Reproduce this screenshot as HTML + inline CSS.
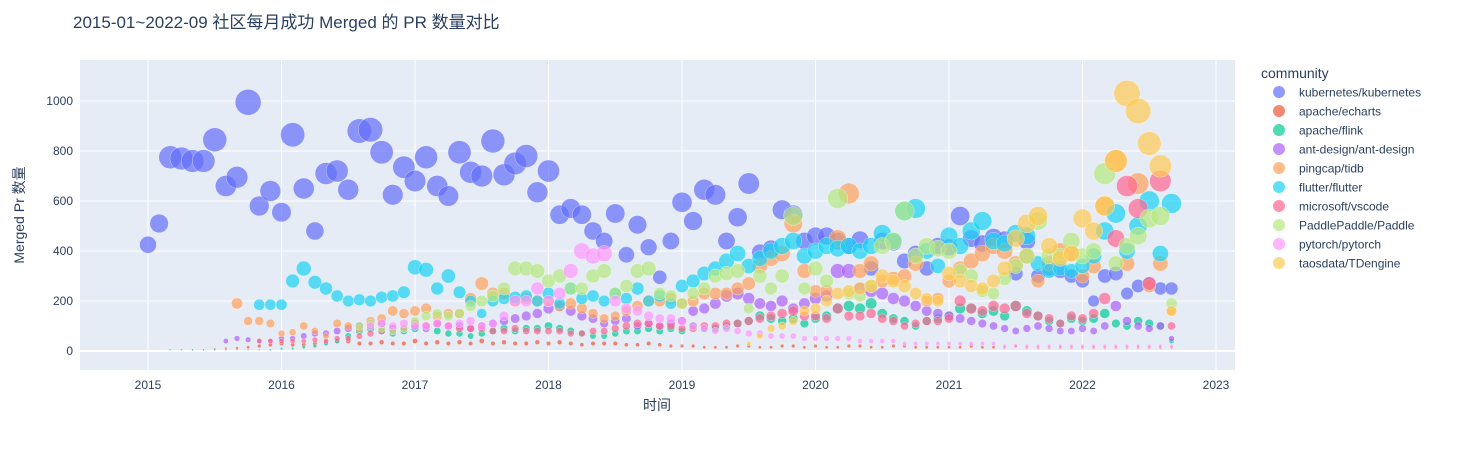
<!DOCTYPE html>
<html><head><meta charset="utf-8"><style>
body{margin:0;background:#fff;font-family:"Liberation Sans","Noto Sans CJK SC",sans-serif;}
</style></head><body>
<svg id="chart" width="1457" height="450" font-family="'Liberation Sans','Noto Sans CJK SC',sans-serif">
<rect width="1457" height="450" fill="#fff"/>
<rect x="80" y="60" width="1155" height="310" fill="#E5ECF6"/>
<g id="grid"></g><g id="marks"></g><g id="legend"></g>
<text x="73" y="28" font-size="17" fill="#2a3f5f">2015-01~2022-09 社区每月成功 Merged 的 PR 数量对比</text>
<text x="657" y="410" font-size="14" fill="#2a3f5f" text-anchor="middle">时间</text>
<text transform="translate(24,215) rotate(-90)" font-size="14" fill="#2a3f5f" text-anchor="middle">Merged Pr 数量</text>
<text x="1261" y="78" font-size="14" fill="#2a3f5f">community</text>
</svg>
<script>
const seriesNames=["kubernetes/kubernetes","apache/echarts","apache/flink","ant-design/ant-design","pingcap/tidb","flutter/flutter","microsoft/vscode","PaddlePaddle/Paddle","pytorch/pytorch","taosdata/TDengine"];
const colors=["#636efa","#EF553B","#00cc96","#ab63fa","#FFA15A","#19d3f3","#FF6692","#B6E880","#FF97FF","#FECB52"];
const N=null;
const k8s=[425,510,775,770,760,760,845,660,695,995,580,640, 555,865,650,480,710,720,645,880,885,795,625,735, 680,775,660,620,795,715,700,840,705,750,780,635, 720,545,570,545,480,440,550,385,505,415,295,440, 595,520,645,625,440,535,670,395,410,565,545,440, 460,460,440,420,445,330,440,435,360,390,330,420, 415,540,450,430,455,445,310,440,300,330,320,300, 280,200,300,310,230,260,270,250,250];
const echarts=[N,N,N,N,5,5,8,10,12,15,20,25, 30,25,25,30,35,40,40,30,30,35,30,30, 40,30,35,30,35,30,40,30,35,30,30,35, 30,35,30,25,30,30,30,25,25,30,25,20, 20,20,15,15,15,20,20,15,15,20,20,15, 20,15,15,20,20,15,15,20,20,15,15,15, 15,15,20,15,15,15,20,15,15,15,15,15, 15,15,15,15,15,15,15,15,15];
const flink=[N,N,5,5,5,5,5,5,5,5,5,5, 10,10,15,20,30,40,60,80,90,80,70,80, 90,100,80,70,70,60,70,80,90,80,90,90, 100,90,80,70,60,60,70,80,80,90,80,90, 80,100,90,90,100,110,120,140,130,120,130,110, 130,140,170,180,170,190,150,130,120,100,120,130, 140,170,170,150,160,140,180,160,140,120,110,130, 120,130,150,110,100,120,110,100,40];
const antd=[N,N,N,N,N,N,N,40,50,45,40,40, 50,50,60,70,70,80,90,100,110,110,90,90, 100,90,110,100,100,90,100,110,120,130,140,150, 170,180,160,140,130,110,120,130,100,110,100,110, 120,160,170,190,220,230,210,190,180,200,170,190, 210,220,320,320,250,240,230,210,200,180,160,150, 140,130,120,110,100,90,80,90,100,90,80,80, 90,80,100,180,120,100,90,100,50];
const tidb=[N,N,N,N,N,N,N,N,190,120,120,110, 70,75,100,80,60,110,100,90,120,130,160,150, 160,170,140,150,150,210,270,230,230,200,210,200, 200,180,190,170,150,130,140,160,180,200,200,210, 190,200,230,230,230,250,270,340,370,390,510,320, 240,240,450,630,320,350,280,290,300,350,200,210, 280,330,360,390,420,400,350,380,280,350,400,390, 300,340,580,760,350,670,260,350,160];
const flutter=[N,N,N,N,N,N,N,N,N,N,185,185, 185,280,330,275,250,220,200,205,200,215,220,235, 335,325,250,300,235,200,150,200,210,215,220,200, 230,190,250,210,220,200,230,210,250,200,220,190, 260,280,310,330,360,390,340,370,400,420,440,380, 400,420,410,420,400,420,470,440,560,570,400,340, 460,420,480,520,440,430,470,460,350,320,330,320, 340,380,480,550,400,500,600,390,590];
const vscode=[N,N,N,N,N,N,N,N,N,N,40,40, 40,40,40,45,40,50,50,60,70,80,80,90, 110,100,110,100,90,90,90,80,80,90,80,80, 80,80,70,70,80,80,90,100,110,110,100,100, 90,90,100,100,110,110,120,130,140,150,160,140, 140,130,170,140,140,150,130,120,100,110,120,120, 130,200,170,160,180,170,180,150,140,130,110,140, 130,150,210,450,660,570,270,680,100];
const paddle=[N,N,N,N,N,N,N,N,N,N,N,N, N,N,N,N,N,N,N,100,110,90,80,90, 120,140,150,140,150,180,200,220,250,330,330,320, 280,300,250,250,300,320,230,260,320,330,230,220, 190,230,250,300,310,320,170,300,250,300,540,250, 330,280,610,230,220,260,420,440,560,380,420,410, 400,320,300,240,230,290,340,380,520,380,380,440, 380,400,710,350,420,460,530,540,190];
const pytorch=[N,N,N,N,N,N,N,N,N,N,N,N, N,N,N,N,N,N,N,N,100,110,100,110, 100,100,110,100,110,120,100,110,140,200,200,250, 200,230,320,400,380,390,200,170,160,140,130,130, 120,100,90,80,90,80,70,70,60,60,60,50, 50,50,50,50,40,40,40,40,30,30,30,30, 30,30,30,30,30,20,20,20,20,20,20,20, 20,20,20,20,20,20,20,20,20];
const tdengine=[N,N,N,N,N,N,N,N,N,N,N,N, N,N,N,N,N,N,N,N,N,N,N,N, N,N,N,N,N,N,N,N,N,N,N,N, N,N,N,N,N,N,N,N,N,N,N,N, N,N,N,N,N,N,30,60,90,100,120,160, 170,200,230,240,250,260,300,280,260,230,210,200, 310,280,260,250,280,330,450,510,540,420,370,390, 530,480,580,760,1030,960,830,740,160];
const allSeries=[k8s,echarts,flink,antd,tidb,flutter,vscode,paddle,pytorch,tdengine];
const xTicks=[2015,2016,2017,2018,2019,2020,2021,2022,2023];
const yTicks=[0,200,400,600,800,1000];

const NS="http://www.w3.org/2000/svg";
function xScale(yearFrac){return 148+(yearFrac-2015)*133.5;}
function yScale(v){return 351-v*0.25;}
function mk(tag,attrs,parent){const e=document.createElementNS(NS,tag);for(const k in attrs)e.setAttribute(k,attrs[k]);parent.appendChild(e);return e;}
const grid=document.getElementById('grid'),marks=document.getElementById('marks'),legend=document.getElementById('legend');
xTicks.forEach(t=>{const x=xScale(t);
 const l=mk('line',{x1:x,x2:x,y1:60,y2:370,stroke:'#fff','stroke-width':1},grid);
 
 
 const tx=mk('text',{x:x,y:389,'font-size':12,fill:'#2a3f5f','text-anchor':'middle'},grid);tx.textContent=t;
 
 
});
yTicks.forEach(t=>{const y=yScale(t);
 const l=mk('line',{x1:80,x2:1235,y1:y,y2:y,stroke:'#fff','stroke-width':t===0?2:1},grid);
 
 
 const tx=mk('text',{x:73,y:y+4,'font-size':12,fill:'#2a3f5f','text-anchor':'end'},grid);tx.textContent=t;
 
 
});
allSeries.forEach((arr,si)=>{
 const g=mk('g',{},marks);
 
 
 arr.forEach((v,i)=>{ if(v===null)return;
  const r=13*Math.sqrt(v/1000);
  const c=mk('circle',{cx:xScale(2015+i/12),cy:yScale(v),r:Math.max(r,0.7),fill:colors[si],'fill-opacity':0.7,stroke:'#fff','stroke-width':0.5,'stroke-opacity':0.6},g);
  
  
 });
 const ly=92+si*19;
 const lg=mk('g',{},legend);
 
 
 mk('circle',{cx:1279,cy:ly,r:6,fill:colors[si],'fill-opacity':0.7},lg);
 const t=mk('text',{x:1299,y:ly+4.5,'font-size':12,fill:'#2a3f5f'},lg);t.textContent=seriesNames[si];
});
</script>
</body></html>
